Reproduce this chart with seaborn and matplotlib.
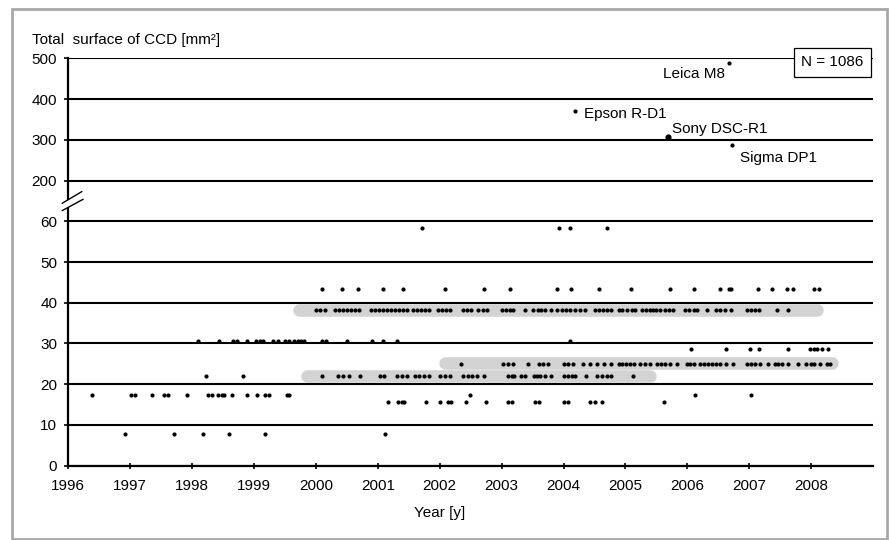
import numpy as np
import pandas as pd
import matplotlib
matplotlib.use("Agg")
import matplotlib.pyplot as plt
import seaborn as sns
from matplotlib.patches import Rectangle, Polygon
from matplotlib.lines import Line2D

# ---------------- data ----------------
# release years of cameras, grouped by their total CCD surface [mm^2]
years_at_7_8 = [1996.91, 1997.70, 1998.18, 1998.60, 1999.17, 2001.12]
years_at_15_7 = [2001.17, 2001.33, 2001.39, 2001.43, 2001.78, 2002.01, 2002.14, 2002.18,
                 2002.43, 2002.74, 2003.11, 2003.17, 2003.54, 2003.60, 2004.00, 2004.07,
                 2004.43, 2004.51, 2004.62, 2005.63]
years_at_17_4 = [1996.39, 1997.01, 1997.08, 1997.36, 1997.55, 1997.61, 1997.92, 1998.25,
                 1998.32, 1998.42, 1998.48, 1998.52, 1998.64, 1998.89, 1999.05, 1999.18,
                 1999.24, 1999.53, 1999.57, 2002.49, 2006.13, 2007.03]
years_at_22_0 = [1998.22, 1998.82, 2000.10, 2000.36, 2000.44, 2000.53, 2000.71, 2001.03,
                 2001.10, 2001.31, 2001.39, 2001.47, 2001.60, 2001.67, 2001.75, 2001.83,
                 2002.00, 2002.09, 2002.17, 2002.38, 2002.45, 2002.52, 2002.60, 2002.72,
                 2003.10, 2003.17, 2003.20, 2003.31, 2003.38, 2003.52, 2003.57, 2003.62,
                 2003.70, 2003.79, 2004.00, 2004.07, 2004.14, 2004.19, 2004.37, 2004.54,
                 2004.62, 2004.70, 2004.76, 2005.12]
years_at_25_0 = [2002.35, 2003.02, 2003.11, 2003.18, 2003.42, 2003.60, 2003.67, 2003.75,
                 2004.00, 2004.08, 2004.16, 2004.32, 2004.43, 2004.54, 2004.65, 2004.76,
                 2004.89, 2004.95, 2005.01, 2005.08, 2005.14, 2005.24, 2005.32, 2005.40,
                 2005.51, 2005.58, 2005.64, 2005.72, 2005.84, 2005.99, 2006.05, 2006.11,
                 2006.21, 2006.27, 2006.34, 2006.40, 2006.47, 2006.53, 2006.63, 2006.73,
                 2006.97, 2007.03, 2007.10, 2007.18, 2007.31, 2007.41, 2007.47, 2007.53,
                 2007.63, 2007.78, 2007.91, 2007.99, 2008.05, 2008.15, 2008.25, 2008.31]
years_at_28_6 = [2006.06, 2006.63, 2007.02, 2007.15, 2007.62, 2007.98, 2008.04, 2008.10,
                 2008.17, 2008.28]
years_at_30_7 = [1998.10, 1998.44, 1998.66, 1998.72, 1998.88, 1999.03, 1999.09, 1999.14,
                 1999.30, 1999.38, 1999.50, 1999.56, 1999.65, 1999.71, 1999.76, 1999.81,
                 2000.10, 2000.16, 2000.50, 2000.90, 2001.09, 2001.31, 2004.10]
years_at_38_2 = [2000.00, 2000.07, 2000.15, 2000.31, 2000.38, 2000.44, 2000.50, 2000.57,
                 2000.63, 2000.70, 2000.89, 2000.96, 2001.02, 2001.09, 2001.15, 2001.22,
                 2001.28, 2001.35, 2001.41, 2001.47, 2001.57, 2001.64, 2001.70, 2001.77,
                 2001.83, 2001.98, 2002.04, 2002.10, 2002.17, 2002.38, 2002.44, 2002.51,
                 2002.62, 2002.70, 2002.77, 2003.01, 2003.07, 2003.14, 2003.19, 2003.38,
                 2003.51, 2003.58, 2003.64, 2003.70, 2003.79, 2003.90, 2003.98, 2004.04,
                 2004.11, 2004.19, 2004.27, 2004.35, 2004.51, 2004.58, 2004.64, 2004.71,
                 2004.76, 2004.89, 2004.95, 2005.03, 2005.10, 2005.16, 2005.27, 2005.34,
                 2005.40, 2005.45, 2005.50, 2005.56, 2005.64, 2005.71, 2005.77, 2005.97,
                 2006.03, 2006.10, 2006.16, 2006.31, 2006.47, 2006.53, 2006.61, 2006.70,
                 2006.97, 2007.03, 2007.10, 2007.15, 2007.45, 2007.62]
years_at_43_4 = [2000.10, 2000.42, 2000.68, 2001.09, 2001.41, 2002.09, 2002.72, 2003.13,
                 2003.89, 2004.12, 2004.57, 2005.09, 2005.72, 2006.10, 2006.52, 2006.67,
                 2006.71, 2007.14, 2007.36, 2007.61, 2007.71, 2008.04, 2008.12]
years_at_58_3 = [2001.71, 2003.92, 2004.11, 2004.71]

surface_levels = [7.8, 15.7, 17.4, 22.0, 25.0, 28.6, 30.7, 38.2, 43.4, 58.3]
year_groups = [years_at_7_8, years_at_15_7, years_at_17_4, years_at_22_0, years_at_25_0,
               years_at_28_6, years_at_30_7, years_at_38_2, years_at_43_4, years_at_58_3]

# large-sensor cameras (upper part of the broken axis)
highlight_names = ["Leica M8", "Epson R-D1", "Sony DSC-R1", "Sigma DP1"]
highlight_years = [2006.68, 2004.19, 2005.68, 2006.72]
highlight_surface = [488, 371, 308, 286]

# grey trend bands: surface level, first year, last year
band_levels = [38.3, 22.1, 25.1]
band_start = [1999.73, 1999.85, 2002.08]
band_end = [2008.10, 2005.40, 2008.33]

y_ticks_low = [0, 10, 20, 30, 40, 50, 60]
y_ticks_high = [200, 300, 400, 500]
x_ticks = list(range(1996, 2009))
n_total = 1086


# broken y scale: 0-60 linear, then 200-500 compressed (100 units -> 10)
def to_axis(v):
    v = np.asarray(v, dtype=float)
    return np.where(v <= 60, v, 70 + (v - 200) / 10.0)


rows = []
for lvl, yrs in zip(surface_levels, year_groups):
    for y in yrs:
        rows.append((y, lvl))
df = pd.DataFrame(rows, columns=["year", "surface"])
df["pos"] = to_axis(df["surface"])

hl = pd.DataFrame({"name": highlight_names, "year": highlight_years,
                   "surface": highlight_surface})
hl["pos"] = to_axis(hl["surface"])

# ---------------- figure ----------------
sns.set_theme(style="white")
plt.rcParams["font.family"] = ["Liberation Sans", "DejaVu Sans"]
plt.rcParams["font.size"] = 11

fig = plt.figure(figsize=(8.89, 5.40), dpi=100)
fig.patch.set_facecolor("white")
ax = fig.add_axes([0.07683, 0.13759, 0.90520, 0.75444])
ax.set_facecolor("white")

ax.set_xlim(1996, 2009)
ax.set_ylim(0, 100)

ytick_pos = list(to_axis(y_ticks_low)) + list(to_axis(y_ticks_high))
ytick_lab = [str(v) for v in y_ticks_low + y_ticks_high]
ax.set_yticks(ytick_pos)
ax.set_yticklabels(ytick_lab)
ax.set_xticks(x_ticks)
ax.set_xticklabels([str(x) for x in x_ticks])

ax.grid(axis="y", color="black", linewidth=1.5, zorder=1)
ax.grid(axis="x", visible=False)
ax.set_axisbelow(True)

for side in ["top", "right"]:
    ax.spines[side].set_visible(False)
for side in ["left", "bottom"]:
    ax.spines[side].set_color("black")
    ax.spines[side].set_linewidth(1.6)
    ax.spines[side].set_zorder(5)

ax.tick_params(axis="y", direction="out", length=3, width=1.2, color="black",
               pad=5, labelsize=11, labelcolor="black", left=True)
ax.tick_params(axis="x", direction="inout", length=5, width=1.2, color="black",
               pad=7, labelsize=11, labelcolor="black", bottom=True)

# grey bands
for lvl, s, e in zip(band_levels, band_start, band_end):
    ax.plot([s, e], [lvl, lvl], color="#d3d3d3", linewidth=9,
            solid_capstyle="round", zorder=2)

# points
sns.scatterplot(data=df, x="year", y="pos", color="black", s=9, linewidth=0,
                ax=ax, zorder=4, legend=False)
sns.scatterplot(data=hl[hl["name"] != "Sony DSC-R1"], x="year", y="pos",
                color="black", s=9, linewidth=0, ax=ax, zorder=4, legend=False)
sns.scatterplot(data=hl[hl["name"] == "Sony DSC-R1"], x="year", y="pos",
                color="black", s=20, linewidth=0, ax=ax, zorder=4, legend=False)
ax.set_xlabel("")
ax.set_ylabel("")

offsets = {"Leica M8": ((-3, -8), "right"),
           "Epson R-D1": ((6.5, -2), "left"),
           "Sony DSC-R1": ((3.5, 5.5), "left"),
           "Sigma DP1": ((6, -9), "left")}
for _, r in hl.iterrows():
    off, ha = offsets[r["name"]]
    ax.annotate(r["name"], (r["year"], r["pos"]), xytext=off,
                textcoords="offset points", ha=ha, va="center", fontsize=11,
                color="black", zorder=6)

# N box
ax.text(0.9885, to_axis(500) - 0.95, f"N = {n_total}", transform=ax.get_yaxis_transform(),
        ha="right", va="center", fontsize=11, color="black", zorder=7,
        bbox=dict(boxstyle="square,pad=0.5", fc="white", ec="black", lw=0.9))

# axis-break marks
tr = ax.transData
gap = Polygon([(1995.90, 62.6), (1996.24, 65.4), (1996.22, 67.3), (1995.90, 64.4)],
              closed=True, fc="white", ec="none", transform=tr, clip_on=False, zorder=6)
ax.add_patch(gap)
for (x0, y0, x1, y1) in [(1995.90, 64.4, 1996.22, 67.3), (1995.90, 62.6, 1996.24, 65.4)]:
    ax.add_line(Line2D([x0, x1], [y0, y1], color="black", lw=1.0, transform=tr,
                       clip_on=False, zorder=7))

# titles
fig.text(32 / 889, 1 - 40 / 540, "Total  surface of CCD [mm\u00b2]", ha="left",
         va="center", fontsize=11, color="black")
fig.text(440 / 889, 1 - 513 / 540, "Year [y]", ha="center", va="center",
         fontsize=11, color="black")

# outer grey frame
fig.patches.append(Rectangle((11.5 / 889, 1.5 / 540), (886.5 - 11.5) / 889,
                             (531.5 - 1.5) / 540, transform=fig.transFigure,
                             fill=False, ec="#a8a8a8", lw=2.0, zorder=10))

fig.savefig("out.png", dpi=100, facecolor="white")
